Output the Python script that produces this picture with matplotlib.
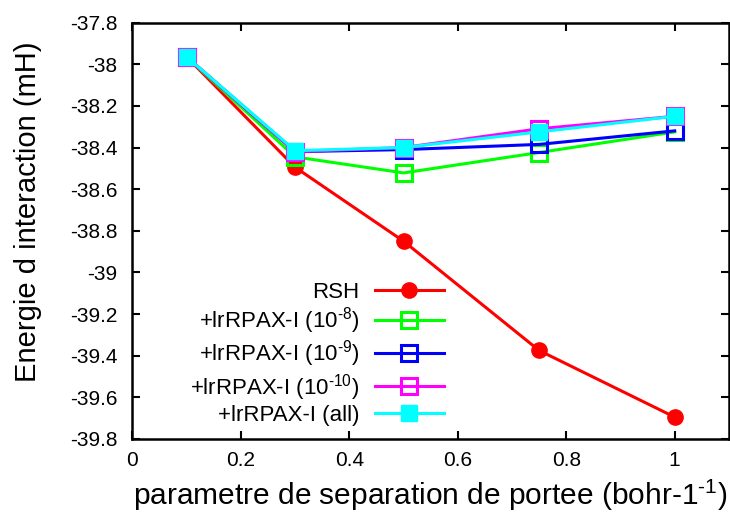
import matplotlib
matplotlib.use('Agg')
import matplotlib.pyplot as plt

# Fonts close to the gnuplot Helvetica look
plt.rcParams['font.family'] = ['Liberation Sans', 'DejaVu Sans']
plt.rcParams['mathtext.fontset'] = 'custom'
plt.rcParams['mathtext.rm'] = 'Liberation Sans'
plt.rcParams['mathtext.default'] = 'regular'

# Data
mu = [0.1, 0.3, 0.5, 0.75, 1.0]
rsh = [-37.965, -38.495, -38.85, -39.375, -39.695]
rpax_1e8 = [-37.965, -38.445, -38.522, -38.424, -38.325]
rpax_1e9 = [-37.965, -38.42, -38.41, -38.385, -38.32]
rpax_1e10 = [-37.965, -38.42, -38.40, -38.31, -38.25]
rpax_all = [-37.965, -38.415, -38.40, -38.325, -38.25]

labels = ['RSH',
          r'+lrRPAX-I (10$^{\text{-}8}$)',
          r'+lrRPAX-I (10$^{\text{-}9}$)',
          r'+lrRPAX-I (10$^{\text{-}10}$)',
          '+lrRPAX-I (all)']

xticks = [0, 0.2, 0.4, 0.6, 0.8, 1]
xtick_labels = ['0', '0.2', '0.4', '0.6', '0.8', '1']
yticks = [-37.8, -38, -38.2, -38.4, -38.6, -38.8, -39, -39.2, -39.4, -39.6, -39.8]
ytick_labels = ['-37.8', '-38', '-38.2', '-38.4', '-38.6', '-38.8', '-39',
                '-39.2', '-39.4', '-39.6', '-39.8']

fig = plt.figure(figsize=(7.3, 5.14), dpi=100)
ax = fig.add_axes([0.1815, 0.146, 0.817, 0.810])

lw = 2.2
ax.plot(mu, rsh, color='#ff0000', lw=lw, marker='o', ms=11, label=labels[0])
ax.plot(mu, rpax_1e8, color='#00ff00', lw=lw, marker='s', ms=12,
        mfc='none', mew=2.2, label=labels[1])
ax.plot(mu, rpax_1e9, color='#0000ff', lw=lw, marker='s', ms=12,
        mfc='none', mew=2.2, label=labels[2])
ax.plot(mu, rpax_1e10, color='#ff00ff', lw=lw, marker='s', ms=12,
        mfc='none', mew=2.2, label=labels[3])
ax.plot(mu, rpax_all, color='#00ffff', lw=lw, marker='s', ms=12,
        label=labels[4])

ax.set_xlim(0, 1.1)
ax.set_ylim(-39.8, -37.8)
ax.set_xticks(xticks)
ax.set_xticklabels(xtick_labels)
ax.set_yticks(yticks)
ax.set_yticklabels(ytick_labels)
ax.tick_params(direction='in', length=6, width=1.5, top=True, right=True,
               labelsize=15)
ax.tick_params(axis='y', pad=11)
ax.tick_params(axis='x', pad=9)
for s in ax.spines.values():
    s.set_linewidth(1.8)

ax.set_xlabel(r'parametre de separation de portee (bohr-1$^{\text{-}1}$)',
              fontsize=21.5, labelpad=5)
ax.set_ylabel("Energie d interaction (mH)", fontsize=21)
# gnuplot puts the y label a bit above the middle of the axis
ax.yaxis.set_label_coords(-0.152, 0.545)

ax.legend(loc='lower right', bbox_to_anchor=(0.623, 0.15),
          bbox_transform=fig.transFigure, frameon=False, markerfirst=False,
          fontsize=16, handlelength=3.1, handletextpad=0.68, borderpad=0,
          labelspacing=0.1)

fig.savefig('out.png', dpi=100)
